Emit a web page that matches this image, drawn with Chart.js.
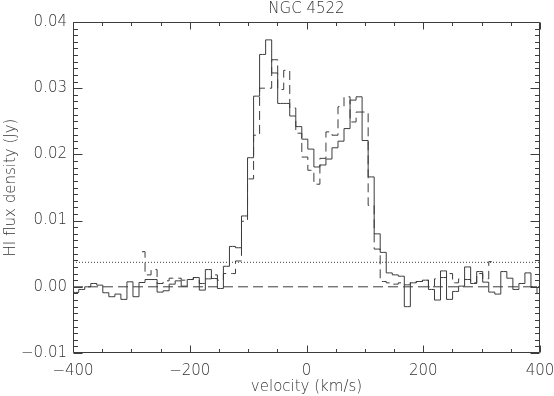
<!DOCTYPE html>
<html><head><meta charset="utf-8">
<script src="https://cdn.jsdelivr.net/npm/chart.js@4/dist/chart.umd.min.js"></script>
<style>html,body{margin:0;padding:0;background:#fff;}#wrap{width:554px;height:396px;}</style>
</head><body><div id="wrap"><canvas id="c" width="554" height="396"></canvas></div>
<script>
const chartTitle = 'NGC 4522';
const xTitle = 'velocity (km/s)';
const yTitle = 'HI flux density (Jy)';

// channel centre velocities (km/s)
const velocity = [
 -405.7,-395.4,-385.1,-374.7,-364.4,-354.1,-343.8,-333.4,-323.1,-312.8,
 -302.4,-292.1,-281.8,-271.4,-261.1,-250.8,-240.5,-230.1,-219.8,-209.5,
 -199.1,-188.8,-178.5,-168.1,-157.8,-147.5,-137.2,-126.8,-116.5,-106.2,
 -95.8,-85.5,-75.2,-64.8,-54.5,-44.2,-33.9,-23.5,-13.2,-2.9,
 7.5,17.8,28.1,38.5,48.8,59.1,69.4,79.8,90.1,100.4,
 110.8,121.1,131.4,141.8,152.1,162.4,172.7,183.1,193.4,203.7,
 214.1,224.4,234.7,245.1,255.4,265.7,276.0,286.4,296.7,307.0,
 317.4,327.7,338.0,348.4,358.7,369.0,379.3,389.7,400.0
];
// solid spectrum (Jy)
const fluxSolid = [
 -0.00085,-0.00085,-0.0004,0.0,0.0005,0.00025,-0.0009,-0.0015,-0.0011,-0.0019,
 0.00075,-0.0015,0.00065,0.0011,0.0011,-0.0008,-0.0006,0.0004,0.0009,0.0001,
 0.0011,0.0014,-0.0005,0.0026,0.00125,-0.00025,0.0031,0.0061,0.0059,0.0107,
 0.0195,0.0288,0.0351,0.0373,0.0323,0.0277,0.0277,0.0258,0.0242,0.0223,
 0.0208,0.0181,0.0184,0.0193,0.0210,0.0220,0.0239,0.0282,0.0287,0.0221,
 0.0166,0.0080,0.0052,0.0021,0.0018,0.0016,-0.0030,0.0006,0.0008,0.0010,
 -0.0004,-0.0020,0.0024,-0.0019,-0.0007,0.0001,0.0030,0.0005,0.0023,0.0007,
 -0.0008,-0.0011,0.0023,0.0013,-0.0004,0.0005,0.0021,0.0000,-0.0010
];
// dashed spectrum (Jy), null where not observed
const fluxDashed = [
 null,null,null,null,null,null,null,null,null,null,
 null,null,0.0053,0.0018,0.0026,0.0005,0.0009,0.0013,0.0013,0.0010,
 0.0011,0.0014,0.0005,0.0012,0.0018,0.0010,0.0020,0.0020,0.0039,0.0099,
 0.0163,0.0229,0.0300,0.0300,0.0343,0.0298,0.0327,0.0270,0.0232,0.0196,
 0.0176,0.0155,0.0194,0.0234,0.0229,0.0272,0.0287,0.0249,0.0264,0.0264,
 0.0123,0.0057,0.0008,0.0006,0.0004,0.0006,0.0003,0.0007,0.0008,0.0010,
 0.0000,0.0012,0.0014,0.0020,0.0006,0.0012,0.0011,0.0006,0.0020,0.0012,
 0.0038,null,null,null,null,null,null,null,null
];
const zeroLevel = 0.0;
const noiseLevel = 0.0037;
const xRange = [-400, 400];
const yRange = [-0.01, 0.04];
const xTickValues = [-400, -200, 0, 200, 400];
const xTickLabels = ['\u2212400', '\u2212200', '0', '200', '400'];
const yTickValues = [-0.01, 0.0, 0.01, 0.02, 0.03, 0.04];
const yTickLabels = ['\u22120.01', '0.00', '0.01', '0.02', '0.03', '0.04'];
const xMinorStep = 50;
const yMinorStep = 0.001;

const INK = '#3c3c3c';
const TEXT = '#333333';
const FONT = '200 15px "DejaVu Sans", sans-serif';

function pts(xs, ys) { return xs.map((v, i) => ({x: v, y: ys[i]})); }

const axesPlugin = {
  id: 'idlAxes',
  afterDraw(chart) {
    const ctx = chart.ctx;
    const xs = chart.scales.x, ys = chart.scales.y;
    const a = chart.chartArea;
    const L = Math.round(a.left) + 0.5, R = Math.round(a.right) - 0.5;
    const T = Math.round(a.top) + 0.5, B = Math.round(a.bottom) - 0.5;
    ctx.save();
    ctx.strokeStyle = INK; ctx.lineWidth = 1;
    ctx.beginPath();
    ctx.rect(L, T, R - L, B - T);
    ctx.stroke();
    ctx.beginPath();
    for (let v = xRange[0]; v <= xRange[1] + 1e-9; v += xMinorStep) {
      const p = Math.round(xs.getPixelForValue(v)) + 0.5;
      const major = xTickValues.some(t => Math.abs(t - v) < 1e-6);
      const len = major ? 7 : 3.5;
      ctx.moveTo(p, B); ctx.lineTo(p, B - len);
      ctx.moveTo(p, T); ctx.lineTo(p, T + len);
    }
    const n = Math.round((yRange[1] - yRange[0]) / yMinorStep);
    for (let i = 0; i <= n; i++) {
      const v = yRange[0] + i * yMinorStep;
      const p = Math.round(ys.getPixelForValue(v)) + 0.5;
      const major = yTickValues.some(t => Math.abs(t - v) < 1e-7);
      const len = major ? 9 : 4.5;
      ctx.moveTo(L, p); ctx.lineTo(L + len, p);
      ctx.moveTo(R, p); ctx.lineTo(R - len, p);
    }
    ctx.stroke();
    ctx.fillStyle = TEXT;
    ctx.font = FONT;
    ctx.textBaseline = 'middle';
    ctx.textAlign = 'center';
    xTickValues.forEach((v, i) => ctx.fillText(xTickLabels[i], xs.getPixelForValue(v), a.bottom + 18));
    ctx.textAlign = 'right';
    yTickValues.forEach((v, i) => ctx.fillText(yTickLabels[i], a.left - 6, ys.getPixelForValue(v)));
    ctx.textAlign = 'center';
    ctx.fillText(xTitle, (a.left + a.right) / 2, a.bottom + 34);
    ctx.fillText(chartTitle, (a.left + a.right) / 2, 9);
    ctx.save();
    ctx.translate(11, (a.top + a.bottom) / 2);
    ctx.rotate(-Math.PI / 2);
    ctx.fillText(yTitle, 0, 0);
    ctx.restore();
    ctx.restore();
  }
};

new Chart(document.getElementById('c'), {
  type: 'line',
  data: {
    datasets: [
      { data: pts(xRange, [zeroLevel, zeroLevel]), borderColor: INK, borderWidth: 1, borderDash: [10, 5], pointRadius: 0 },
      { data: pts(xRange, [noiseLevel, noiseLevel]), borderColor: INK, borderWidth: 1, borderDash: [1, 2], pointRadius: 0 },
      { data: pts(velocity, fluxDashed), borderColor: INK, borderWidth: 1, borderDash: [9, 5], pointRadius: 0, stepped: 'middle', spanGaps: false },
      { data: pts(velocity, fluxSolid), borderColor: INK, borderWidth: 1, pointRadius: 0, stepped: 'middle' }
    ]
  },
  options: {
    responsive: false, animation: false, devicePixelRatio: 1,
    layout: { padding: { left: 73, right: 14, top: 22, bottom: 43 } },
    scales: {
      x: { type: 'linear', min: xRange[0], max: xRange[1], display: false },
      y: { type: 'linear', min: yRange[0], max: yRange[1], display: false }
    },
    plugins: { legend: { display: false }, tooltip: { enabled: false }, title: { display: false } }
  },
  plugins: [axesPlugin]
});
</script></body></html>
